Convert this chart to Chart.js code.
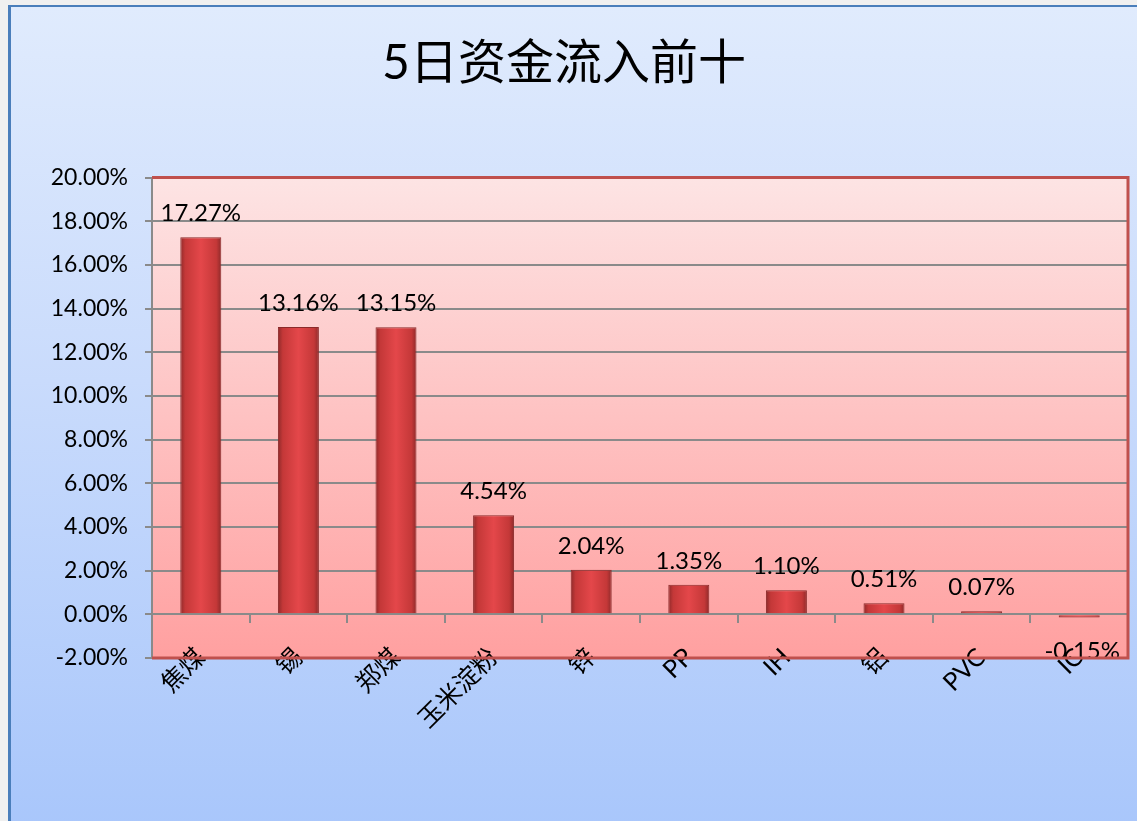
<!DOCTYPE html>
<html>
<head>
<meta charset="utf-8">
<script src="https://cdn.jsdelivr.net/npm/chart.js@4.4.0/dist/chart.umd.min.js"></script>
<style>
  html, body { margin: 0; padding: 0; width: 1137px; height: 821px; overflow: hidden; background: #f0f0f0; }
  #frame { position: absolute; left: 8px; top: 5px; width: 1140px; height: 830px;
           border-left: 3px solid #4a7ebb; border-top: 2px solid #4a7ebb;
           background: linear-gradient(to bottom, #e0ebfd 0%, #c9dbfc 45%, #a8c6fb 100%); }
  #wrap { position: absolute; left: 0; top: 0; width: 1137px; height: 821px; }
</style>
</head>
<body>
<div id="frame"></div>
<div id="wrap"><canvas id="c" width="1137" height="821"></canvas></div>
<script>
const titleText = '5日资金流入前十';
const categories = ['焦煤', '锡', '郑煤', '玉米淀粉', '锌', 'PP', 'IH', '铝', 'PVC', 'IC'];
const values = [17.27, 13.16, 13.15, 4.54, 2.04, 1.35, 1.10, 0.51, 0.07, -0.15];
const yMin = -2, yMax = 20, yStep = 2;

const BAR_PCT = 0.42;
const latinFont = "Lato, 'Noto Sans CJK SC', sans-serif";

function barFill(ctx) {
  const chart = ctx.chart;
  const xs = chart.scales && chart.scales.x;
  if (!chart.chartArea || !xs || xs.width === undefined) return '#d84040';
  const cx = xs.getPixelForValue(ctx.dataIndex);
  const w = xs.width / categories.length * BAR_PCT;
  const g = chart.ctx.createLinearGradient(cx - w / 2, 0, cx + w / 2, 0);
  g.addColorStop(0, '#8e2a2a');
  g.addColorStop(0.12, '#c43838');
  g.addColorStop(0.5, '#e4474a');
  g.addColorStop(0.88, '#c43838');
  g.addColorStop(1, '#8e2a2a');
  return g;
}

const plotBg = {
  id: 'plotBg',
  beforeDraw(chart) {
    const a = chart.chartArea, c = chart.ctx;
    const g = c.createLinearGradient(0, a.top, 0, a.bottom);
    g.addColorStop(0, '#fde4e4');
    g.addColorStop(1, '#ffa0a0');
    c.save();
    c.fillStyle = g;
    c.fillRect(a.left, a.top, a.right - a.left, a.bottom - a.top);
    c.restore();
  },
  afterDraw(chart) {
    const a = chart.chartArea, c = chart.ctx;
    c.save();
    c.strokeStyle = '#c0504d';
    c.lineWidth = 3;
    c.beginPath();
    c.moveTo(a.left, a.top); c.lineTo(a.right, a.top); c.lineTo(a.right, a.bottom); c.lineTo(a.left, a.bottom);
    c.stroke();
    c.restore();
  }
};

const valueLabels = {
  id: 'valueLabels',
  afterDatasetsDraw(chart) {
    const c = chart.ctx;
    const meta = chart.getDatasetMeta(0);
    c.save();
    c.font = '24px ' + latinFont;
    c.fillStyle = '#000';
    c.textAlign = 'center';
    meta.data.forEach((bar, i) => {
      const v = values[i];
      const txt = v.toFixed(2) + '%';
      if (v >= 0) {
        c.textBaseline = 'bottom';
        c.fillText(txt, bar.x, bar.y - 12);
      } else {
        c.textBaseline = 'top';
        c.fillText(txt, bar.x + 3, bar.y + 22);
      }
    });
    c.restore();
  }
};

new Chart(document.getElementById('c'), {
  type: 'bar',
  data: {
    labels: categories,
    datasets: [{
      data: values,
      backgroundColor: barFill,
      borderColor: '#8a2a2a',
      borderWidth: 1,
      barPercentage: BAR_PCT,
      categoryPercentage: 1.0,
      minBarLength: 3
    }]
  },
  options: {
    responsive: false,
    animation: false,
    layout: { padding: { left: 0, top: 0, right: 9, bottom: 163 } },
    plugins: {
      legend: { display: false },
      tooltip: { enabled: false },
      title: {
        display: true,
        text: titleText,
        color: '#000',
        font: { family: "Lato, 'Noto Sans CJK SC', sans-serif", size: 48, weight: 'normal' },
        padding: { top: 35, bottom: 85 }
      }
    },
    scales: {
      y: {
        min: yMin, max: yMax,
        ticks: {
          stepSize: yStep,
          color: '#000',
          font: { family: latinFont, size: 23 },
          padding: 17,
          callback: v => Number(v).toFixed(2) + '%'
        },
        grid: { color: '#8a8a8a', lineWidth: 2, tickLength: 7, drawTicks: true },
        border: { color: '#8a8a8a', width: 2 },
        afterFit(scale) { scale.width = 152; }
      },
      x: {
        position: { y: 0 },
        ticks: {
          color: '#000',
          font: { family: latinFont, size: 25 },
          minRotation: 45, maxRotation: 45,
          padding: 20,
          autoSkip: false
        },
        grid: { drawOnChartArea: false, drawTicks: true, tickLength: 8, color: '#8a8a8a', lineWidth: 2, offset: true },
        border: { color: '#8a8a8a', width: 2 }
      }
    }
  },
  plugins: [plotBg, valueLabels]
});
</script>
</body>
</html>
